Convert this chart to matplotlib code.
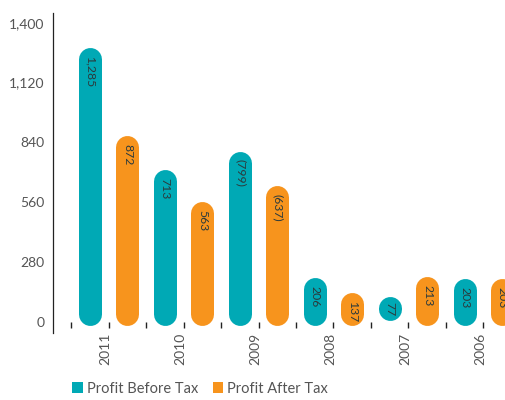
import matplotlib
matplotlib.use("Agg")
import matplotlib.pyplot as plt
from matplotlib.patches import Patch
import matplotlib.transforms as mtransforms
import numpy as np

plt.rcParams['font.family'] = ['Lato', 'DejaVu Sans']

years = ["2011", "2010", "2009", "2008", "2007", "2006"]
profit_before_tax = [1285, 713, -799, 206, 77, 203]
profit_after_tax = [872, 563, -637, 137, 213, 203]
series_names = ["Profit Before Tax", "Profit After Tax"]
colors = ["#00A9B5", "#F7941D"]
yticks = [0, 280, 560, 840, 1120, 1400]

DPI = 100
fig = plt.figure(figsize=(5.05, 4.0), dpi=DPI)
ax = fig.add_axes([53/505, 67/400, 1 - 53/505, 320/400])

ylo, yhi = -52.9, 1445.4
ax.set_ylim(ylo, yhi)
ax.set_xlim(-0.988, 11.08)

px_per_unit = 320 / (yhi - ylo)
bar_px = 23
r = (bar_px / 2) / px_per_unit
base = -15.5

def fmt(v):
    s = f"{abs(v):,}"
    return f"({s})" if v < 0 else s

for gi, (a, b) in enumerate(zip(profit_before_tax, profit_after_tax)):
    for si, v in enumerate((a, b)):
        x = gi * 2 + si
        h = abs(v)
        top_c = h - r
        bot_c = base + r
        short = top_c < bot_c
        if short:
            c = h - 0.3 * r
            bot_c, top_c = c - 1.0, c + 1.0
        ax.plot([x, x], [bot_c, top_c], color=colors[si],
                lw=bar_px * 72 / DPI, solid_capstyle='round', zorder=2)
        if short:
            ax.text(x, (bot_c + top_c) / 2, fmt(v), rotation=-90, ha='center',
                    va='center', fontsize=8.8, color='#2b3a3c', zorder=3)
        else:
            ax.annotate(fmt(v), (x, h), xytext=(0.3, -6), textcoords='offset points',
                        rotation=-90, ha='center', va='top', fontsize=8.8,
                        color='#2b3a3c', zorder=3)

# axes styling
for s in ['top', 'right', 'bottom']:
    ax.spines[s].set_visible(False)
ax.spines['left'].set_color('#222222')
ax.spines['left'].set_linewidth(0.9)
ax.spines['bottom'].set_position(('data', -29.5))

ax.set_yticks(yticks)
ax.set_yticklabels([f"{t:,}" for t in yticks])
ax.tick_params(axis='y', length=0, pad=6, labelsize=10, labelcolor='#555555')

bounds = np.arange(-0.5, 11.0, 1.0)
ax.set_xticks(bounds)
labels = []
for bnd in bounds:
    k = (bnd - 0.5) / 2
    if k >= 0 and abs(k - round(k)) < 1e-9 and int(round(k)) < len(years):
        labels.append(years[int(round(k))])
    else:
        labels.append("")
ax.set_xticklabels(labels, rotation=90, va='top', ha='center')
ax.tick_params(axis='x', direction='in', length=4, width=1.0, color='#222222',
               pad=3.5, labelsize=10, labelcolor='#555555')
off = mtransforms.ScaledTranslation(-3/DPI, 0, fig.dpi_scale_trans)
for lab in ax.get_xticklabels():
    lab.set_transform(lab.get_transform() + off)

handles = [Patch(facecolor=c, edgecolor='none') for c in colors]
fig.legend(handles, series_names, loc='lower left', bbox_to_anchor=(59/505, -9/400),
           ncol=2, frameon=False, handlelength=0.75, handleheight=0.75,
           handletextpad=0.25, columnspacing=1.0, fontsize=10.5,
           labelcolor='#555555')

fig.savefig("out.png", dpi=DPI)
